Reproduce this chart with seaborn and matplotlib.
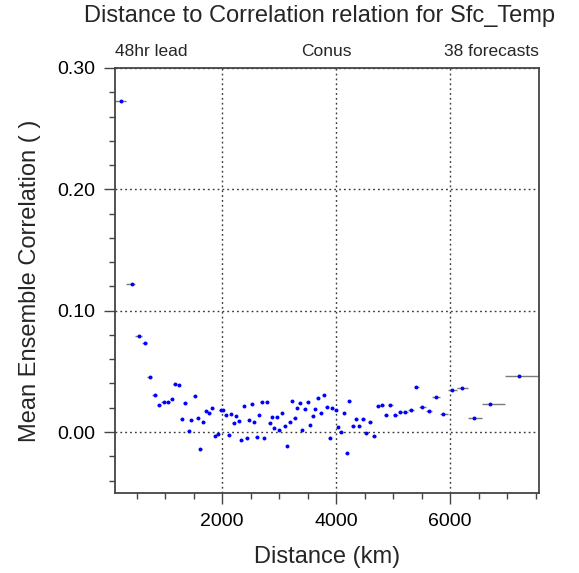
import numpy as np
import pandas as pd
import matplotlib
matplotlib.use("Agg")
import matplotlib.pyplot as plt
import seaborn as sns
from matplotlib.ticker import MultipleLocator, FixedLocator

# ---- data ----
dist_km = [223, 411, 539, 644, 732, 820, 895, 972, 1042, 1112,
           1170, 1235, 1288, 1351, 1411, 1456, 1521, 1568, 1614, 1667,
           1719, 1772, 1825, 1872, 1919, 1972, 2018, 2060, 2112, 2158,
           2200, 2246, 2288, 2334, 2381, 2428, 2474, 2516, 2561, 2603,
           2649, 2691, 2731, 2779, 2831, 2872, 2912, 2959, 3000, 3047,
           3094, 3135, 3182, 3222, 3270, 3310, 3358, 3398, 3445, 3498,
           3538, 3586, 3631, 3679, 3726, 3784, 3831, 3884, 3929, 3989,
           4029, 4087, 4140, 4187, 4228, 4298, 4350, 4403, 4468, 4533,
           4591, 4661, 4731, 4801, 4877, 4954, 5041, 5129, 5217, 5310,
           5410, 5515, 5626, 5748, 5883, 6041, 6217, 6420, 6708, 7209]

corr = [0.2732, 0.1217, 0.0791, 0.0733, 0.0456, 0.0308, 0.0220, 0.0245, 0.0250, 0.0272,
        0.0398, 0.0390, 0.0105, 0.0239, 0.0011, 0.0099, 0.0297, 0.0116, -0.0140, 0.0082,
        0.0176, 0.0154, 0.0201, -0.0033, -0.0013, 0.0181, 0.0179, 0.0138, -0.0025, 0.0148,
        0.0072, 0.0129, 0.0091, -0.0066, 0.0214, -0.0049, 0.0102, 0.0228, 0.0080, -0.0041,
        0.0138, 0.0247, -0.0046, 0.0247, 0.0074, 0.0124, 0.0033, 0.0124, 0.0014, 0.0160,
        0.0049, -0.0115, 0.0082, 0.0255, 0.0113, 0.0198, 0.0239, 0.0016, 0.0187, 0.0247,
        0.0055, 0.0129, 0.0193, 0.0283, 0.0160, 0.0302, 0.0203, -0.0049, 0.0195, 0.0181,
        0.0044, 0.0003, 0.0154, -0.0173, 0.0253, 0.0049, 0.0105, 0.0049, 0.0105, -0.0008,
        0.0086, -0.0033, 0.0214, 0.0226, 0.0138, 0.0226, 0.0143, 0.0165, 0.0168, 0.0179,
        0.0371, 0.0203, 0.0176, 0.0288, 0.0148, 0.0343, 0.0366, 0.0115, 0.0228, 0.0461]

first_edge_km = 113
last_edge_km = 7561

title = "Distance to Correlation relation for Sfc_Temp"
left_sub = "48hr lead"
center_sub = "Conus"
right_sub = "38 forecasts"
xlabel = "Distance (km)"
ylabel = "Mean Ensemble Correlation ( )"
xticks = [2000, 4000, 6000]
yticks = [0.0, 0.1, 0.2, 0.3]
ytick_labels = ["0.00", "0.10", "0.20", "0.30"]

df = pd.DataFrame({"dist": dist_km, "corr": corr})
d = np.asarray(dist_km, dtype=float)
mids = (d[:-1] + d[1:]) / 2.0
df["lo"] = np.concatenate([[first_edge_km], mids])
df["hi"] = np.concatenate([mids, [last_edge_km]])

# ---- style ----
sns.set_theme(style="white")
plt.rcParams["font.family"] = ["Liberation Sans", "DejaVu Sans"]

fig = plt.figure(figsize=(5.79, 5.73), dpi=100)
ax = fig.add_axes([114.7 / 579, 1 - 492.7 / 573, 424.3 / 579, 424.7 / 573])

ax.hlines(df["corr"], df["lo"], df["hi"], colors="#7a7a7a", linewidth=1.0, zorder=2)
sns.scatterplot(data=df, x="dist", y="corr", ax=ax, color="#0000ff", s=8,
                linewidth=0, zorder=3, legend=False)

ax.set_xlim(first_edge_km, last_edge_km)
ax.set_ylim(-0.05, 0.30)
ax.xaxis.set_major_locator(FixedLocator(xticks))
ax.xaxis.set_minor_locator(MultipleLocator(500))
ax.yaxis.set_major_locator(FixedLocator(yticks))
ax.set_yticklabels(ytick_labels)
ax.yaxis.set_minor_locator(MultipleLocator(0.02))

ax.grid(True, which="major", linestyle=(0, (1.3, 2.2)), color="#3a3a3a", linewidth=1.0)
ax.set_axisbelow(True)

for s in ax.spines.values():
    s.set_color("#444444")
    s.set_linewidth(1.3)

ax.tick_params(which="both", bottom=True, left=True, top=False, right=False,
               direction="out", color="#444444", width=1.0)
ax.tick_params(which="major", length=7.8, labelsize=14, pad=6, labelcolor="black")
ax.tick_params(which="minor", length=4.0)
ax.tick_params(axis="x", which="major", pad=7)

ax.set_xlabel(xlabel, fontsize=17)
ax.set_ylabel(ylabel, fontsize=17)
ax.xaxis.label.set_va("center")
ax.yaxis.label.set_va("center")
ax.xaxis.set_label_coords(0.5, (492.7 - 556.7) / 424.7)
ax.yaxis.set_label_coords((30 - 114.7) / 424.3, 0.5)

fig.text(319 / 579, 1 - 16 / 573, title, ha="center", va="center", fontsize=17)
ax.text(0.0, 1.0 + 17 / 424.7, left_sub, transform=ax.transAxes, ha="left", va="center", fontsize=12.5)
ax.text(0.5, 1.0 + 17 / 424.7, center_sub, transform=ax.transAxes, ha="center", va="center", fontsize=12.5)
ax.text(1.0, 1.0 + 17 / 424.7, right_sub, transform=ax.transAxes, ha="right", va="center", fontsize=12.5)

fig.savefig("out.png", dpi=100)
